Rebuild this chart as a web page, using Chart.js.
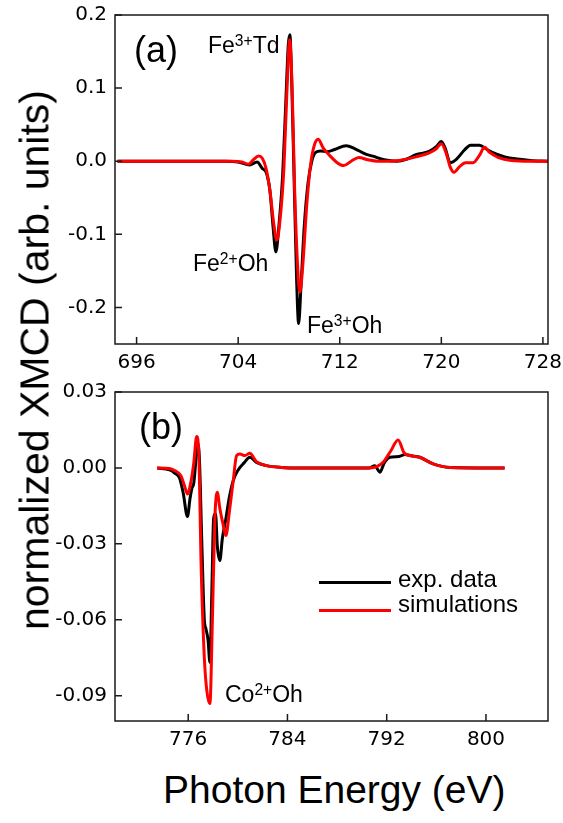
<!DOCTYPE html>
<html>
<head>
<meta charset="utf-8">
<script src="https://cdn.jsdelivr.net/npm/chart.js@4.4.0/dist/chart.umd.min.js"></script>
<style>
  body { margin: 0; background: #fff; }
  #page { position: relative; width: 563px; height: 823px; overflow: hidden;
          font-family: "Liberation Sans", Arial, sans-serif; color: #000; }
  canvas { position: absolute; left: 0; }
  .lbl { position: absolute; white-space: nowrap; line-height: 1; }
  .lbl sup { font-size: 0.68em; position: relative; top: -0.42em; vertical-align: baseline; }
  .key { position: absolute; left: 319px; width: 72px; height: 3px; }
</style>
</head>
<body>
<div id="page">
  <canvas id="feChart" width="563" height="380" style="top:0"></canvas>
  <canvas id="coChart" width="563" height="380" style="top:380px"></canvas>

  <div class="lbl" style="left:134px;top:32px;font-size:36px">(a)</div>
  <div class="lbl" style="left:139px;top:409px;font-size:36px">(b)</div>
  <div class="lbl" style="left:208px;top:34px;font-size:23px">Fe<sup>3+</sup>Td</div>
  <div class="lbl" style="left:193px;top:252px;font-size:23px">Fe<sup>2+</sup>Oh</div>
  <div class="lbl" style="left:307px;top:314px;font-size:23px">Fe<sup>3+</sup>Oh</div>
  <div class="lbl" style="left:225px;top:683px;font-size:23px">Co<sup>2+</sup>Oh</div>

  <div class="key" style="top:581px;background:#000"></div>
  <div class="key" style="top:609px;background:#ff0000"></div>
  <div class="lbl" style="left:398px;top:567px;font-size:24px">exp. data</div>
  <div class="lbl" style="left:398px;top:592px;font-size:24px">simulations</div>

  <div class="lbl" style="left:35px;top:360px;font-size:41px;transform:translate(-50%,-50%) rotate(-90deg)">normalized XMCD (arb. units)</div>
  <div class="lbl" style="left:163px;top:770px;font-size:39px">Photon Energy (eV)</div>
</div>

<script>
// (a) Fe L3 edge
const feEnergyExp = [694.5, 700, 703, 704.0, 704.9, 705.5, 705.9, 706.2, 706.5, 706.75, 706.97, 707.2, 707.5,
  707.75, 707.95, 708.07, 708.2, 708.4, 708.6, 708.76, 708.95, 709.2, 709.5, 709.8, 710.1, 710.5, 711.0,
  711.6, 712.5, 713.2, 714.0, 714.6, 715.5, 716.5, 717.3, 718.0, 719.0, 719.6, 720.0, 720.3, 720.7,
  721.2, 721.8, 722.3, 723.0, 723.6, 724.3, 725.0, 726.0, 727.0, 728.4];
const feXmcdExp = [0, 0, 0, -0.001, -0.005, -0.001, -0.010, -0.015, -0.04, -0.09, -0.124, -0.09, -0.02,
  0.08, 0.16, 0.173, 0.12, -0.02, -0.16, -0.222, -0.17, -0.09, -0.03, 0.0, 0.012, 0.014, 0.013,
  0.016, 0.021, 0.017, 0.010, 0.007, 0.002, 0.0, 0.003, 0.009, 0.013, 0.020, 0.027, 0.018, -0.002,
  0.003, 0.015, 0.022, 0.022, 0.016, 0.010, 0.006, 0.003, 0.001, 0];
const feEnergySim = [694.5, 703.5, 704.3, 704.8, 705.2, 705.6, 705.9, 706.2, 706.5, 706.8, 707.05, 707.3,
  707.6, 707.85, 708.05, 708.25, 708.45, 708.7, 708.86, 709.1, 709.4, 709.7, 710.0, 710.3, 710.7, 711.2,
  711.8, 712.3, 712.9, 713.5, 714.2, 715.0, 716.0, 717.0, 718.0, 719.0, 719.6, 720.0, 720.4, 720.7,
  721.0, 721.4, 721.9, 722.5, 723.0, 723.4, 723.8, 724.5, 725.5, 727.0, 728.4];
const feXmcdSim = [0, 0, -0.001, -0.004, 0.002, 0.007, 0.004, -0.010, -0.04, -0.085, -0.108, -0.08,
  -0.01, 0.10, 0.166, 0.10, -0.04, -0.15, -0.179, -0.14, -0.06, -0.005, 0.022, 0.030, 0.018, 0.008,
  -0.002, -0.006, 0.0, 0.005, 0.002, 0.0, 0.0, 0.002, 0.006, 0.011, 0.017, 0.024, 0.010, -0.008,
  -0.015, -0.008, -0.002, -0.002, 0.008, 0.019, 0.012, 0.005, 0.001, 0, 0];
const feEnergyTicks = [696, 704, 712, 720, 728];
const feXmcdTicks = [-0.2, -0.1, 0.0, 0.1, 0.2];

// (b) Co L3 edge
const coEnergyExp = [773.5, 774.5, 774.9, 775.3, 775.6, 775.94, 776.15, 776.3, 776.45, 776.6, 776.75, 776.9,
  777.1, 777.3, 777.43, 777.6, 777.75, 777.9, 778.05, 778.2, 778.35, 778.55, 778.75, 779.04, 779.3,
  779.63, 780.0, 780.5, 780.97, 781.5, 782.3, 783.5, 785, 790.6, 791.04, 791.45, 791.8, 792.25, 793.0,
  793.46, 794.0, 794.67, 795.74, 797.1, 801.5];
const coXmcdExp = [0, -0.0008, -0.002, -0.004, -0.010, -0.0192, -0.012, -0.008, -0.006, 0.002, 0.0095, 0.004,
  -0.03, -0.06, -0.0636, -0.068, -0.0768, -0.05, -0.02, -0.018, -0.031, -0.0366, -0.028, -0.020, -0.012,
  -0.005, -0.001, 0.002, 0.0042, 0.0022, 0.0009, 0.0002, 0, 0, 0.0009, -0.0017, 0.002, 0.0042, 0.0045,
  0.0053, 0.0048, 0.0042, 0.0016, 0.0002, 0];
const coEnergySim = [773.5, 774.5, 774.9, 775.4, 775.7, 775.94, 776.2, 776.45, 776.68, 776.85, 777.05, 777.3,
  777.5, 777.75, 777.95, 778.15, 778.34, 778.55, 778.8, 779.04, 779.3, 779.63, 779.9, 780.17, 780.57,
  780.97, 781.5, 782.3, 783.5, 785, 790.6, 791.2, 791.71, 792.3, 792.92, 793.4, 793.86, 794.67, 795.74,
  797.1, 801.5];
const coXmcdSim = [0, -0.0002, -0.001, -0.003, -0.007, -0.0103, -0.006, 0.002, 0.0124, 0.006, -0.04, -0.075,
  -0.088, -0.0932, -0.06, -0.02, -0.0096, -0.016, -0.022, -0.0267, -0.018, -0.005, 0.0049, 0.0055, 0.0049,
  0.0058, 0.0025, 0.0009, 0.0002, 0, 0, 0.0005, 0.0022, 0.0065, 0.011, 0.006, 0.0049, 0.0042, 0.0016,
  0.0002, 0];
const coEnergyTicks = [776, 784, 792, 800];
const coXmcdTicks = [-0.09, -0.06, -0.03, 0.00, 0.03];

const pairs = (xs, ys) => xs.map((x, i) => ({ x: x, y: ys[i] }));

// box around the plot plus inward tick marks on bottom and left
const framePlugin = {
  id: 'frame',
  afterDatasetsDraw(chart) {
    const { ctx, chartArea: a, scales: { x, y } } = chart;
    ctx.save();
    ctx.strokeStyle = '#1a1a1a';
    ctx.lineWidth = 1.5;
    ctx.strokeRect(a.left, a.top, a.right - a.left, a.bottom - a.top);
    ctx.beginPath();
    x.ticks.forEach(t => {
      const px = x.getPixelForValue(t.value);
      ctx.moveTo(px, a.bottom);
      ctx.lineTo(px, a.bottom - 7);
    });
    y.ticks.forEach(t => {
      const py = y.getPixelForValue(t.value);
      ctx.moveTo(a.left, py);
      ctx.lineTo(a.left + 7, py);
    });
    ctx.stroke();
    ctx.restore();
  }
};

function makeChart(id, expData, simData, xr, yr, xTicks, yTicks, digits, padTop, xAxisHeight) {
  const tickFont = { family: '"DejaVu Sans", sans-serif', size: 20 };
  return new Chart(document.getElementById(id), {
    type: 'scatter',
    data: {
      datasets: [
        { label: 'exp. data', data: expData, borderColor: '#000', borderWidth: 3, order: 2 },
        { label: 'simulations', data: simData, borderColor: '#ff0000', borderWidth: 3, order: 1 }
      ].map(d => Object.assign(d, { showLine: true, pointRadius: 0, cubicInterpolationMode: 'monotone' }))
    },
    options: {
      responsive: false,
      animation: false,
      devicePixelRatio: 1,
      layout: { padding: { top: padTop, right: 15, left: 0, bottom: 0 } },
      plugins: { legend: { display: false }, tooltip: { enabled: false } },
      scales: {
        x: {
          type: 'linear', min: xr[0], max: xr[1],
          grid: { display: false, drawTicks: false },
          border: { display: false },
          ticks: { font: tickFont, color: '#000', padding: 7, maxRotation: 0 },
          afterBuildTicks: s => { s.ticks = xTicks.map(v => ({ value: v })); },
          afterFit: s => { s.height = xAxisHeight; s.paddingLeft = 0; s.paddingRight = 0; }
        },
        y: {
          type: 'linear', min: yr[0], max: yr[1],
          grid: { display: false, drawTicks: false },
          border: { display: false },
          ticks: { font: tickFont, color: '#000', padding: 8, callback: v => v.toFixed(digits) },
          afterBuildTicks: s => { s.ticks = yTicks.map(v => ({ value: v })); },
          afterFit: s => { s.width = 115; s.paddingTop = 0; s.paddingBottom = 0; }
        }
      }
    },
    plugins: [framePlugin]
  });
}

makeChart('feChart', pairs(feEnergyExp, feXmcdExp), pairs(feEnergySim, feXmcdSim),
  [694.3, 728.4], [-0.25, 0.2], feEnergyTicks, feXmcdTicks, 1, 15, 36);
makeChart('coChart', pairs(coEnergyExp, coXmcdExp), pairs(coEnergySim, coXmcdSim),
  [770.1, 805], [-0.1, 0.03], coEnergyTicks, coXmcdTicks, 2, 12, 39);
</script>
</body>
</html>
